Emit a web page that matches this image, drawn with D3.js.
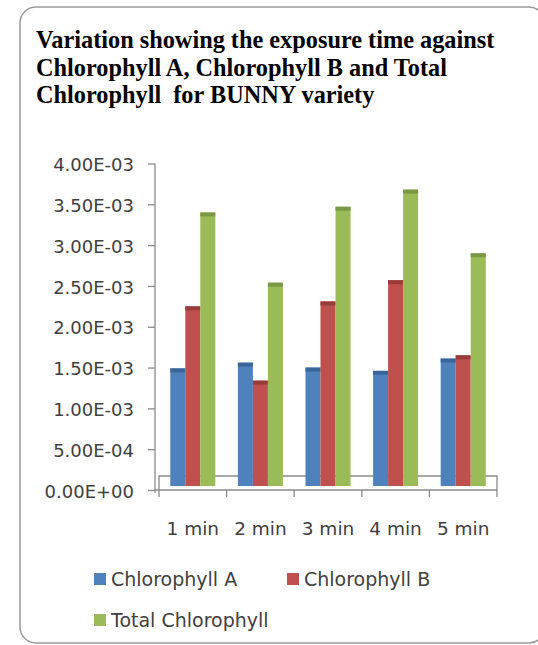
<!DOCTYPE html>
<html><head><meta charset="utf-8">
<script src="https://cdn.jsdelivr.net/npm/d3@7"></script>
<style>body{margin:0;background:#fff}svg{display:block}</style>
</head><body>
<div id="chart"></div>
<script>
const categories = ["1 min","2 min","3 min","4 min","5 min"];
const seriesNames = ["Chlorophyll A","Chlorophyll B","Total Chlorophyll"];
const chlA  = [1.49e-3, 1.56e-3, 1.50e-3, 1.46e-3, 1.61e-3];
const chlB  = [2.25e-3, 1.34e-3, 2.31e-3, 2.57e-3, 1.65e-3];
const total = [3.40e-3, 2.54e-3, 3.47e-3, 3.68e-3, 2.90e-3];
const yTicks = [0, 5e-4, 1e-3, 1.5e-3, 2e-3, 2.5e-3, 3e-3, 3.5e-3, 4e-3];
const titleLines = ["Variation showing the exposure time against",
                    "Chlorophyll A, Chlorophyll B and Total",
                    "Chlorophyll  for BUNNY variety"];
const colors = ["#4F81BD","#C0504D","#9BBB59"];
const capColors = ["#3A659A","#983C3A","#7A9844"];

const W = 538, H = 645;
const svg = d3.select("#chart").append("svg").attr("width", W).attr("height", H);

// border
svg.append("rect").attr("x",20).attr("y",7).attr("width",525).attr("height",636)
  .attr("rx",16).attr("fill","none").attr("stroke","#9a9a9a").attr("stroke-width",1.5);

// title
svg.append("g").selectAll("text").data(titleLines).join("text")
  .attr("x",36).attr("y",(d,i)=>48+i*27.7)
  .attr("font-family","'Liberation Serif','Times New Roman',serif")
  .attr("font-weight","bold").attr("font-size",24.3).attr("fill","#000")
  .style("white-space","pre")
  .text(d=>d);

const y = d3.scaleLinear().domain([0,4e-3]).range([490,163.5]);
const x = d3.scaleBand().domain(categories).range([159,497]).paddingInner(0.334).paddingOuter(0.167);
const xs = d3.scaleBand().domain(seriesNames).range([0,x.bandwidth()]);
const depth = 4;
const axisColor = "#8a8a8a";

// floor
const floor = svg.append("g").attr("stroke",axisColor).attr("fill","none").attr("stroke-width",1.3);
floor.append("path").attr("d",`M${x.range()[0]},${y(0)} V${y(0)-14} H${x.range()[1]} V${y(0)}`);

// bars
const data = [chlA, chlB, total];
const bars = svg.append("g");
categories.forEach((c,ci)=>{
  seriesNames.forEach((s,si)=>{
    const v = data[si][ci];
    const bx = x(c)+xs(s);
    bars.append("rect").attr("x",bx).attr("y",y(v)).attr("width",xs.bandwidth())
      .attr("height",y(0)-depth-y(v)).attr("fill",colors[si]);
    bars.append("rect").attr("x",bx).attr("y",y(v)).attr("width",xs.bandwidth())
      .attr("height",depth).attr("fill",capColors[si]);
  });
});

// y axis
const yAxis = d3.axisLeft(y).tickValues(yTicks).tickSize(7).tickPadding(14)
  .tickFormat(d=>{ let s=d.toExponential(2).toUpperCase(); return s.replace(/E([+-])(\d)$/,"E$10$2"); });
const ga = svg.append("g").attr("transform","translate(155,0)").call(yAxis);
ga.select(".domain").attr("stroke",axisColor).attr("stroke-width",1.3).attr("d",`M0,${y(4e-3)}V${y(0)+3}`);
ga.selectAll(".tick line").attr("stroke",axisColor).attr("stroke-width",1.3);
ga.selectAll(".tick text").attr("font-family","'DejaVu Sans',sans-serif").attr("font-size",18)
  .attr("fill","#404040").attr("dy","0.4em");

// x axis
const gx = svg.append("g").attr("stroke",axisColor).attr("stroke-width",1.3);
gx.append("line").attr("x1",155).attr("x2",x.range()[1]).attr("y1",y(0)).attr("y2",y(0));
const bounds = categories.map(c=>x(c)-x.step()*x.paddingInner()/2).concat([x.range()[1]]);
bounds[0] = x.range()[0];
gx.selectAll("line.t").data(bounds).join("line").attr("class","t")
  .attr("x1",d=>d).attr("x2",d=>d).attr("y1",y(0)).attr("y2",y(0)+7);
svg.append("g").selectAll("text").data(categories).join("text")
  .attr("x",d=>x(d)+x.bandwidth()/2).attr("y",535).attr("text-anchor","middle")
  .attr("font-family","'DejaVu Sans',sans-serif").attr("font-size",18.5).attr("fill","#404040")
  .text(d=>d);

// legend
const legPos = [[94,586],[287,586],[94,627]];
const lg = svg.append("g");
seriesNames.forEach((s,i)=>{
  const [lx,ly] = legPos[i];
  lg.append("rect").attr("x",lx).attr("y",ly-13).attr("width",12).attr("height",12).attr("fill",colors[i]);
  lg.append("text").attr("x",lx+17).attr("y",ly).attr("font-family","'DejaVu Sans',sans-serif")
    .attr("font-size",19).attr("fill","#404040").text(s);
});
</script>
</body></html>
